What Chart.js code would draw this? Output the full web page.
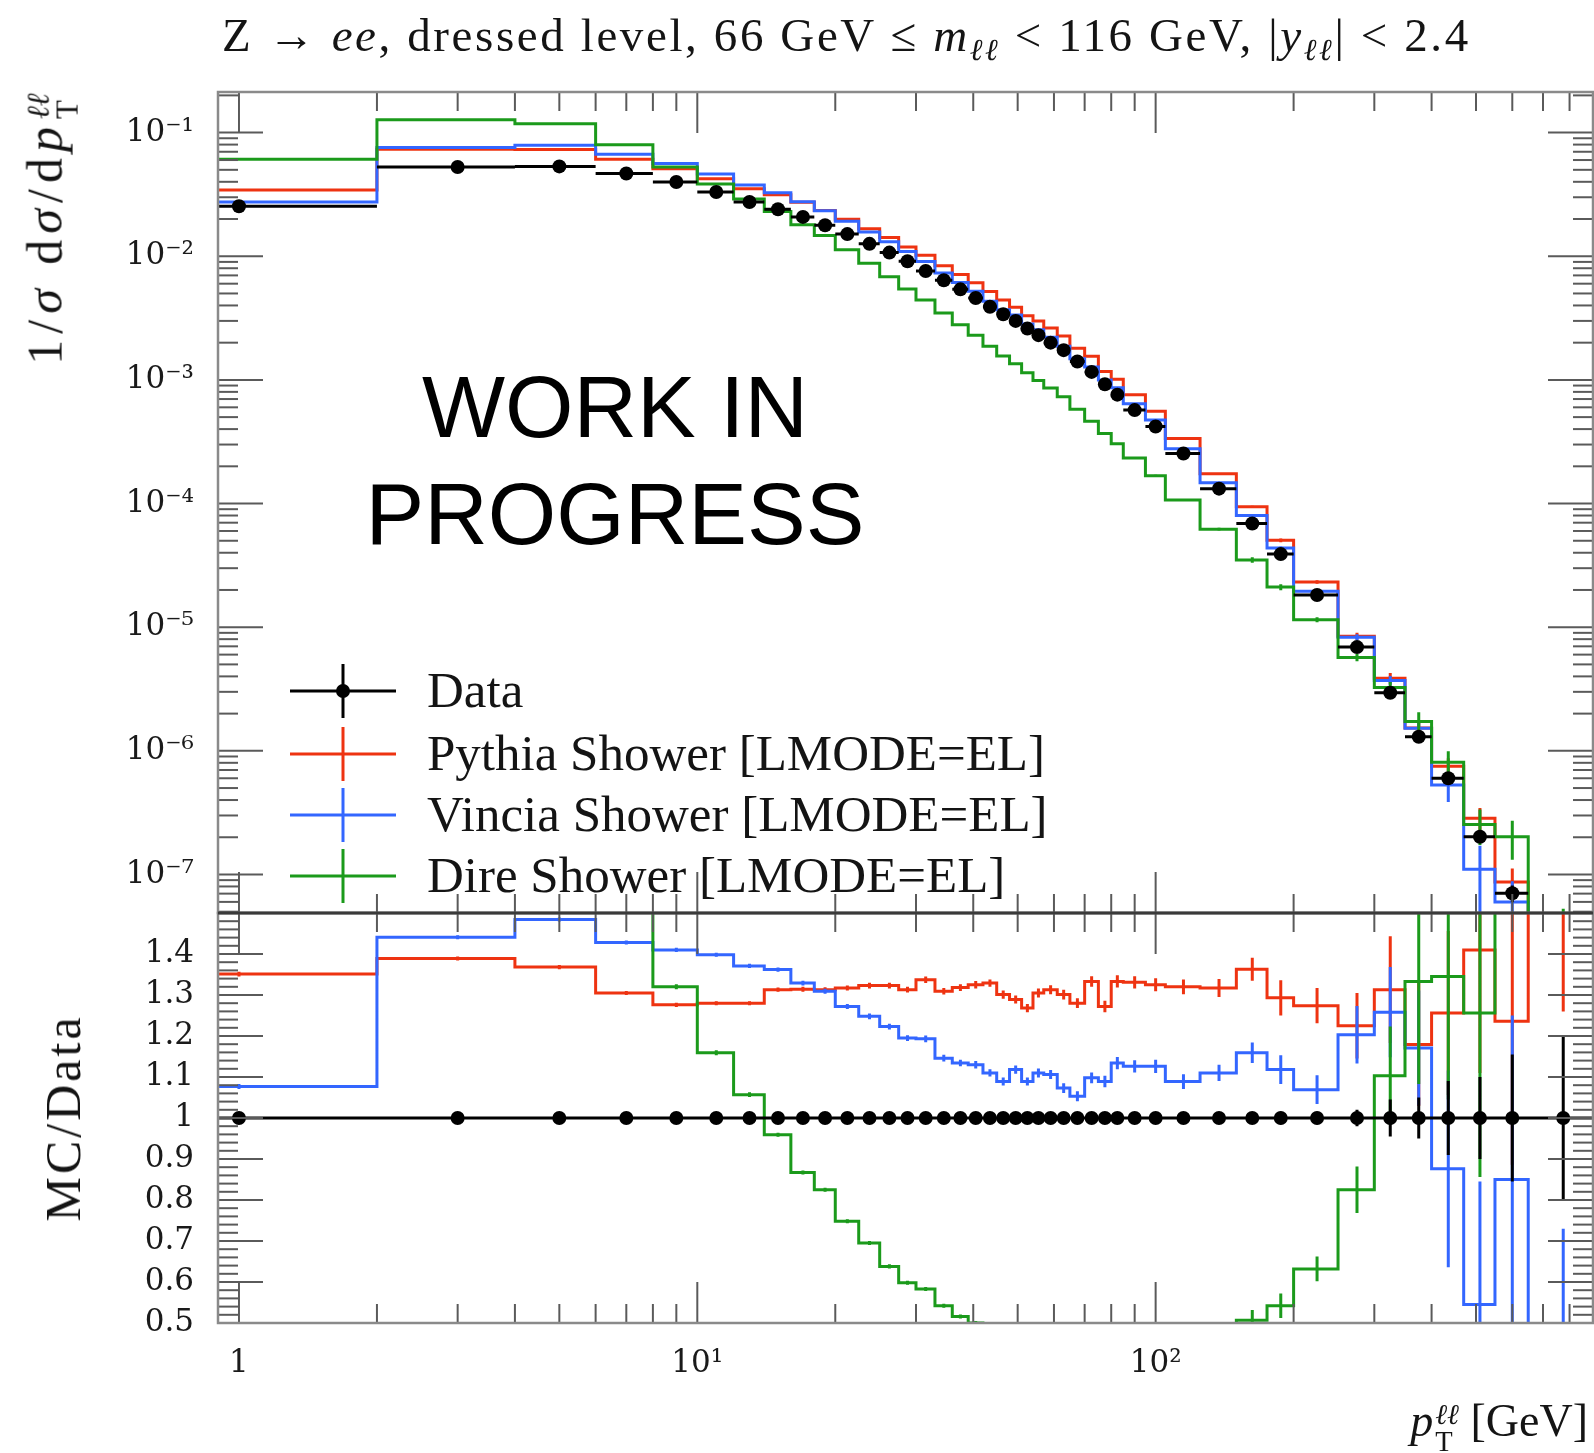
<!DOCTYPE html>
<html>
<head>
<meta charset="utf-8">
<title>Z pT</title>
<script src="https://cdn.jsdelivr.net/npm/chart.js@4.4.1/dist/chart.umd.min.js"></script>
<style>
html,body{margin:0;padding:0;background:#fff;overflow:hidden;}
#wrap{position:relative;width:1600px;height:1453px;overflow:hidden;background:#fff;}
#wrap canvas{position:absolute;left:0;top:0;}
.t{position:absolute;font-family:"Liberation Serif","Times New Roman",serif;color:#141414;white-space:nowrap;line-height:1;}
.rot{transform:translate(-50%,-50%) rotate(-90deg);}
.ss{display:inline-flex;flex-direction:column;font-size:0.62em;line-height:0.95;vertical-align:0.42em;margin-left:2px;text-align:left;letter-spacing:0;}
sub.s{font-size:0.65em;vertical-align:-0.3em;}
#wip{position:absolute;left:615px;top:353px;transform:translateX(-50%);font-family:"Liberation Sans",Arial,sans-serif;font-size:88px;line-height:107px;text-align:center;color:#000;white-space:nowrap;}
</style>
</head>
<body>
<div id="wrap">
<canvas id="mainChart" width="1600" height="1453"></canvas>
<canvas id="ratioChart" width="1600" height="1453"></canvas>
<div class="t" id="title" style="left:222px;top:12px;font-size:47px;letter-spacing:2.6px;">Z → <i>ee</i>, dressed level, 66 GeV ≤ <i>m</i><sub class="s"><i>ℓℓ</i></sub> &lt; 116 GeV, |<i>y</i><sub class="s"><i>ℓℓ</i></sub>| &lt; 2.4</div>
<div class="t rot" style="left:51px;top:229px;font-size:50px;letter-spacing:6px;">1/<i>σ</i> d<i>σ</i>/d<i>p</i><span class="ss"><i>ℓℓ</i><span>T</span></span></div>
<div class="t rot" style="left:63px;top:1118px;font-size:50px;letter-spacing:3px;">MC/Data</div>
<div class="t" style="right:12px;top:1398px;font-size:46px;"><i>p</i><span class="ss"><i>ℓℓ</i><span>T</span></span> [GeV]</div>
<div id="wip">WORK IN<br>PROGRESS</div>
</div>
<script>
// ---------------- data ----------------
const binEdges = [0,2,4,6,8,10,12,14,16,18,20,22.5,25,27.5,30,33,36,39,42,45,48,51,54,57,61,65,70,75,80,85,95,105,125,150,175,200,250,300,350,400,470,550,650,900];

const dataVals = [0.0254,0.0527,0.0533,0.0467,0.0399,0.0331,0.0275,0.0240,0.0208,0.0178,0.0151,0.0126,0.0107,0.0091,0.0076,0.0064,0.0054,0.0046,0.0039,0.0034,0.0030,0.0026,0.0023,0.0020,0.00174,0.00141,0.00116,0.00092,0.00076,0.00057,0.00042,0.000254,0.000132,6.9e-5,3.9e-5,1.82e-5,6.9e-6,2.95e-6,1.30e-6,6.0e-7,2.02e-7,7.05e-8,1.6e-8];
const pythiaVals = [0.0343,0.0732,0.0729,0.0609,0.0509,0.0424,0.0352,0.0315,0.0273,0.0234,0.0199,0.0167,0.0142,0.0119,0.0102,0.00838,0.00712,0.00610,0.00518,0.00442,0.00387,0.00330,0.00300,0.00263,0.00226,0.00180,0.00155,0.00117,0.00101,0.000759,0.000557,0.000335,0.000174,9.4e-5,5.04e-5,2.32e-5,8.45e-6,3.87e-6,1.53e-6,7.5e-7,2.85e-7,8.7e-8,2.6e-8];
const vinciaVals = [0.0274,0.0759,0.0791,0.0667,0.0563,0.0463,0.0377,0.0327,0.0276,0.0233,0.0192,0.0157,0.0131,0.0109,0.00907,0.00733,0.00612,0.00520,0.00433,0.00370,0.00335,0.00283,0.00255,0.00221,0.00187,0.00148,0.00127,0.00100,0.000862,0.000642,0.000473,0.000277,0.000147,8.0e-5,4.36e-5,1.95e-5,8.3e-6,3.71e-6,1.52e-6,5.3e-7,1.10e-7,6.0e-8,6.4e-9];
const direVals = [0.0608,0.127,0.118,0.0799,0.0527,0.0384,0.0291,0.0230,0.0180,0.0147,0.0113,0.00876,0.00683,0.00544,0.00443,0.00347,0.00279,0.00230,0.00187,0.00156,0.00135,0.00114,0.000989,0.000860,0.000731,0.000578,0.000464,0.000368,0.000304,0.000234,0.000168,0.000107,6.2e-5,3.5e-5,2.11e-5,1.15e-5,5.69e-6,3.25e-6,1.73e-6,8.1e-7,2.54e-7,2.02e-7,4.0e-8];

const pythiaRatio = [1.351,1.389,1.368,1.305,1.276,1.280,1.280,1.313,1.314,1.313,1.317,1.323,1.323,1.313,1.337,1.309,1.318,1.325,1.329,1.301,1.289,1.268,1.305,1.313,1.301,1.280,1.333,1.272,1.333,1.331,1.325,1.320,1.317,1.363,1.293,1.274,1.225,1.313,1.179,1.256,1.410,1.236,1.65];
const vinciaRatio = [1.077,1.441,1.484,1.428,1.41,1.398,1.371,1.362,1.329,1.309,1.272,1.248,1.223,1.195,1.193,1.146,1.134,1.130,1.110,1.089,1.118,1.089,1.110,1.106,1.073,1.053,1.098,1.089,1.134,1.126,1.126,1.089,1.110,1.159,1.118,1.069,1.203,1.258,1.171,0.876,0.545,0.850,0.40];
const direRatio = [2.39,2.41,2.22,1.71,1.32,1.159,1.057,0.959,0.867,0.825,0.748,0.695,0.638,0.598,0.583,0.542,0.516,0.50,0.48,0.46,0.45,0.44,0.43,0.43,0.42,0.41,0.40,0.40,0.40,0.41,0.40,0.42,0.47,0.507,0.542,0.632,0.825,1.103,1.333,1.345,1.256,2.87,2.5];

// uncertainties as read in the ratio panel
const dataErr = [0.005,0.003,0.003,0.003,0.003, 0.003,0.003,0.003,0.003,0.003, 0.003,0.003,0.003,0.003,0.003, 0.003,0.003,0.004,0.004,0.004, 0.004,0.004,0.004,0.005,0.005, 0.005,0.005,0.006,0.006,0.006, 0.007,0.008,0.009,0.012,0.015, 0.015,0.02,0.045,0.05,0.09, 0.10,0.155,0.20];
const pythiaErr = [0.006,0.005,0.005,0.005,0.005, 0.005,0.005,0.005,0.006,0.006, 0.006,0.007,0.007,0.007,0.008, 0.008,0.008,0.009,0.009,0.01, 0.01,0.01,0.011,0.011,0.012, 0.012,0.013,0.014,0.015,0.015, 0.016,0.018,0.022,0.028,0.043, 0.043,0.08,0.13,0.15,0.2, 0.3,0.35,0.39];
const vinciaErr = [0.006,0.005,0.005,0.005,0.005, 0.005,0.005,0.005,0.006,0.006, 0.006,0.007,0.007,0.007,0.008, 0.008,0.008,0.009,0.009,0.01, 0.01,0.01,0.011,0.011,0.012, 0.012,0.013,0.014,0.015,0.015, 0.016,0.018,0.02,0.025,0.035, 0.035,0.07,0.11,0.14,0.24, 0.3,0.4,0.33];
const direErr = [0.01,0.008,0.008,0.007,0.006, 0.006,0.006,0.005,0.005,0.005, 0.005,0.005,0.005,0.005,0.005, 0.005,0.005,0.005,0.005,0.005, 0.005,0.005,0.005,0.005,0.006, 0.006,0.006,0.006,0.006,0.007, 0.007,0.008,0.012,0.025,0.03, 0.03,0.057,0.12,0.25,0.3, 0.4,1.0,0.8];

const seriesNames = ['Data','Pythia Shower [LMODE=EL]','Vincia Shower [LMODE=EL]','Dire Shower [LMODE=EL]'];
const xTicks = [1,10,100];
const xTickLabels = ['1','10\u00B9','10\u00B2'];
const mainYTicks = [1e-7,1e-6,1e-5,1e-4,1e-3,1e-2,1e-1];
const mainYTickLabels = ['10\u207B\u2077','10\u207B\u2076','10\u207B\u2075','10\u207B\u2074','10\u207B\u00B3','10\u207B\u00B2','10\u207B\u00B9'];
const ratioYTicks = [0.5,0.6,0.7,0.8,0.9,1,1.1,1.2,1.3,1.4];
const ratioYTickLabels = ['0.5','0.6','0.7','0.8','0.9','1','1.1','1.2','1.3','1.4'];

// ---------------- styling ----------------
const XMIN = 0.9, XMAX = 900;
const C_DATA = '#000000', C_PY = '#ee3311', C_VIN = '#3366ff', C_DIRE = '#1b9a1b';

// ---------------- helpers building library data from the arrays ----------------
function histPts(vals){const p=[];vals.forEach((v,i)=>{p.push({x:Math.max(binEdges[i],XMIN),y:v});p.push({x:binEdges[i+1],y:v});});return p;}
function segPts(vals){const p=[];vals.forEach((v,i)=>{p.push({x:Math.max(binEdges[i],XMIN),y:v});p.push({x:binEdges[i+1],y:v});p.push({x:binEdges[i+1],y:null});});return p;}
function barPts(vals,errs){const p=[];vals.forEach((v,i)=>{const c=(binEdges[i]+binEdges[i+1])/2;p.push({x:c,y:v-errs[i]});p.push({x:c,y:v+errs[i]});p.push({x:c,y:null});});return p;}
function centerPts(vals){return vals.map((v,i)=>({x:(binEdges[i]+binEdges[i+1])/2,y:v}));}
function lineDs(color,pts,order,width){return {data:pts,borderColor:color,backgroundColor:color,borderWidth:width||3,pointRadius:0,pointHoverRadius:0,showLine:true,spanGaps:false,fill:false,tension:0,order:order};}
function dotDs(pts){return {data:pts,borderColor:C_DATA,backgroundColor:C_DATA,pointBackgroundColor:C_DATA,pointBorderWidth:0,pointRadius:7,showLine:false,order:0};}

const relUp = (vals,err,ratio)=>vals.map((v,i)=>v*err[i]/ratio[i]);
const dataRatio = dataVals.map(()=>1);

const mainDatasets = [
  dotDs(centerPts(dataVals)),
  lineDs(C_DATA,segPts(dataVals),1),
  lineDs(C_DATA,barPts(dataVals,dataVals.map((v,i)=>v*dataErr[i])),1),
  lineDs(C_DIRE,histPts(direVals),2),
  lineDs(C_DIRE,barPts(direVals,relUp(direVals,direErr,direRatio)),2),
  lineDs(C_VIN,histPts(vinciaVals),3),
  lineDs(C_VIN,barPts(vinciaVals,relUp(vinciaVals,vinciaErr,vinciaRatio)),3),
  lineDs(C_PY,histPts(pythiaVals),4),
  lineDs(C_PY,barPts(pythiaVals,relUp(pythiaVals,pythiaErr,pythiaRatio)),4)
];
const ratioDatasets = [
  dotDs(centerPts(dataRatio)),
  lineDs(C_DATA,histPts(dataRatio),1),
  lineDs(C_DATA,barPts(dataRatio,dataErr),1),
  lineDs(C_DIRE,histPts(direRatio),2),
  lineDs(C_DIRE,barPts(direRatio,direErr),2),
  lineDs(C_VIN,histPts(vinciaRatio),3),
  lineDs(C_VIN,barPts(vinciaRatio,vinciaErr),3),
  lineDs(C_PY,histPts(pythiaRatio),4),
  lineDs(C_PY,barPts(pythiaRatio,pythiaErr),4)
];

// ---------------- plugins ----------------
const tickFramePlugin = {
  id:'tickFrame',
  afterDraw(chart,args,o){
    const ctx=chart.ctx, a=chart.chartArea, sx=chart.scales.x, sy=chart.scales.y;
    const seg=(x1,y1,x2,y2)=>{ctx.beginPath();ctx.moveTo(x1,y1);ctx.lineTo(x2,y2);ctx.stroke();};
    ctx.save();
    ctx.strokeStyle=o.tickColor; ctx.lineWidth=o.tickWidth;
    for(let e=-1;e<=3;e++){for(let m=1;m<=9;m++){const v=m*Math.pow(10,e);if(v<sx.min||v>sx.max)continue;const px=sx.getPixelForValue(v);const len=m===1?o.xMajor:o.xMinor;seg(px,a.bottom,px,a.bottom-len);seg(px,a.top,px,a.top+len);}}
    const yt=[];
    if(o.kind==='log'){for(let e=-9;e<=0;e++)for(let m=1;m<=9;m++)yt.push([m*Math.pow(10,e),m===1]);}
    else{for(let k=0;k<=50;k++)yt.push([0.5+k*0.02,k%5===0]);}
    yt.forEach(([v,major])=>{if(v<sy.min*0.9999||v>sy.max*1.0001)return;const py=sy.getPixelForValue(v);const len=major?o.yMajor:o.yMinor;seg(a.left,py,a.left+len,py);seg(a.right,py,a.right-len,py);});
    ctx.strokeStyle=o.frameColor; ctx.lineWidth=o.frameWidth;
    ctx.strokeRect(a.left,a.top,a.right-a.left,a.bottom-a.top);
    if(o.sepColor){ctx.strokeStyle=o.sepColor;ctx.lineWidth=3;seg(a.left,a.top,a.right,a.top);}
    ctx.restore();
  }
};
const legendPlugin = {
  id:'legendBox',
  afterDraw(chart,args,o){
    if(!o.items)return;
    const ctx=chart.ctx;
    ctx.save();
    o.items.forEach((it,i)=>{
      const y=o.ys[i];
      ctx.strokeStyle=it.color; ctx.lineWidth=3;
      ctx.beginPath();ctx.moveTo(o.x0,y);ctx.lineTo(o.x1,y);ctx.stroke();
      ctx.beginPath();ctx.moveTo(o.xm,y-o.bar);ctx.lineTo(o.xm,y+o.bar);ctx.stroke();
      if(it.dot){ctx.fillStyle=it.color;ctx.beginPath();ctx.arc(o.xm,y,7,0,Math.PI*2);ctx.fill();}
      ctx.fillStyle='#141414'; ctx.font=o.font; ctx.textBaseline='middle'; ctx.textAlign='left';
      ctx.fillText(it.label,o.xt,y+3);
    });
    ctx.restore();
  }
};

Chart.defaults.font.family = '"DejaVu Serif", serif';

function makeOptions(kind){
  const isLog = kind==='log';
  const tickFont = {family:'"DejaVu Serif", serif',size:31};
  return {
    responsive:false, animation:false, devicePixelRatio:1, events:[],
    layout:{padding: isLog ? {top:92,right:3,bottom:540,left:0} : {top:913,right:3,bottom:0,left:0}},
    plugins:{
      legend:{display:false}, tooltip:{enabled:false}, title:{display:false},
      tickFrame:{kind:kind,tickColor:'#5a5a5a',tickWidth:2,xMajor:41,xMinor:19,yMajor:45,yMinor:20,frameColor:'#8a8a8a',frameWidth:2.5,sepColor:isLog?null:'#3a3a3a'},
      legendBox: isLog ? {
        items:[{label:seriesNames[0],color:C_DATA,dot:true},{label:seriesNames[1],color:C_PY},{label:seriesNames[2],color:C_VIN},{label:seriesNames[3],color:C_DIRE}],
        ys:[691,754,815,876], x0:290, x1:396, xm:343, xt:427, bar:27, font:'51px "Liberation Serif"'
      } : {}
    },
    scales:{
      x:{type:'logarithmic',min:XMIN,max:XMAX,display:!isLog,
         grid:{display:false,drawTicks:false},border:{display:false},
         afterBuildTicks:s=>{s.ticks=xTicks.map(v=>({value:v}));},
         afterFit:s=>{s.height=isLog?0:130;},
         ticks:{autoSkip:false,maxRotation:0,padding:22,color:'#1a1a1a',font:tickFont,callback:(v,i)=>xTickLabels[i]}},
      y: isLog ? {type:'logarithmic',min:4.88e-8,max:0.213,
         grid:{display:false,drawTicks:false},border:{display:false},
         afterBuildTicks:s=>{s.ticks=mainYTicks.map(v=>({value:v}));},
         afterFit:s=>{s.width=218;},
         ticks:{autoSkip:false,padding:24,color:'#1a1a1a',font:tickFont,callback:(v,i)=>mainYTickLabels[i]}}
       : {type:'linear',min:0.5,max:1.5,
         grid:{display:false,drawTicks:false},border:{display:false},
         afterBuildTicks:s=>{s.ticks=ratioYTicks.map(v=>({value:v}));},
         afterFit:s=>{s.width=218;},
         ticks:{autoSkip:false,padding:24,color:'#1a1a1a',font:tickFont,callback:(v,i)=>ratioYTickLabels[i]}}
    }
  };
}

new Chart(document.getElementById('mainChart'),{type:'line',data:{datasets:mainDatasets},options:makeOptions('log'),plugins:[tickFramePlugin,legendPlugin]});
new Chart(document.getElementById('ratioChart'),{type:'line',data:{datasets:ratioDatasets},options:makeOptions('ratio'),plugins:[tickFramePlugin]});
</script>
</body>
</html>
